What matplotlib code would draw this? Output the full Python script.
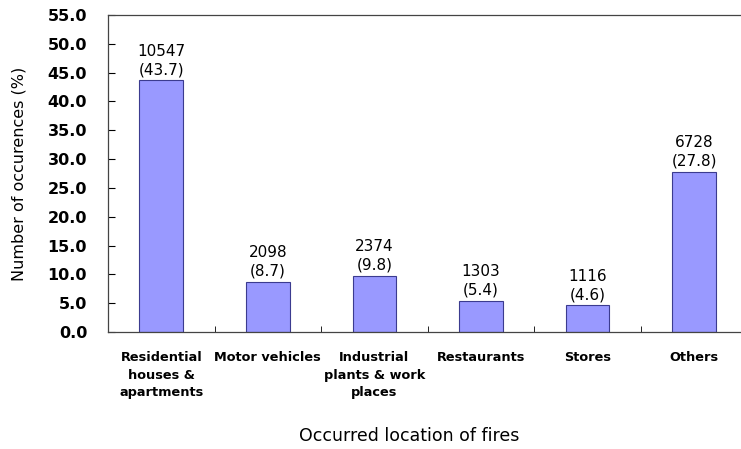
import numpy as np
import matplotlib.pyplot as plt
from matplotlib.ticker import FormatStrFormatter

# -- data --
categories = ['Residential\nhouses &\napartments', 'Motor vehicles', 'Industrial\nplants & work\nplaces',
              'Restaurants', 'Stores', 'Others']
counts = [10547, 2098, 2374, 1303, 1116, 6728]
percents = [43.7, 8.7, 9.8, 5.4, 4.6, 27.8]

fig = plt.figure(figsize=(7.41, 4.49), dpi=100)
ax = fig.add_axes([0.1457, 0.2606, 0.863, 0.706])

x = np.arange(len(categories))
ax.bar(x, percents, width=0.41, color='#9999FF', edgecolor='#3b3b8f', linewidth=0.8)

for xi, c, p in zip(x, counts, percents):       # count and percent above each bar
    ax.text(xi, p + 0.5, '%d\n(%.1f)' % (c, p), ha='center', va='bottom', fontsize=11, linespacing=1.3)

ax.set_xlim(-0.5, 5.5)
ax.set_ylim(0, 55)
ax.set_yticks(np.arange(0, 55.1, 5))
ax.yaxis.set_major_formatter(FormatStrFormatter('%.1f'))
ax.tick_params(axis='y', direction='in', length=5, labelsize=11.5, pad=15)
for lbl in ax.get_yticklabels():
    lbl.set_fontweight('bold')

ax.set_xticks(x)
ax.set_xticklabels(categories, fontsize=9.3, fontweight='bold', linespacing=1.45)
ax.set_xticks(x[:-1] + 0.5, minor=True)
ax.tick_params(axis='x', which='major', length=0, pad=14)
ax.tick_params(axis='x', which='minor', direction='in', length=4)

ax.set_ylabel('Number of occurences (%)', fontsize=11.5)
ax.yaxis.set_label_coords(-0.127, 0.5)
ax.set_xlabel('Occurred location of fires', fontsize=12.5)
ax.xaxis.set_label_coords(0.471, -0.30)

for s in ax.spines.values():
    s.set_color('#444444')
    s.set_linewidth(0.9)

plt.savefig('out.png', dpi=100)
